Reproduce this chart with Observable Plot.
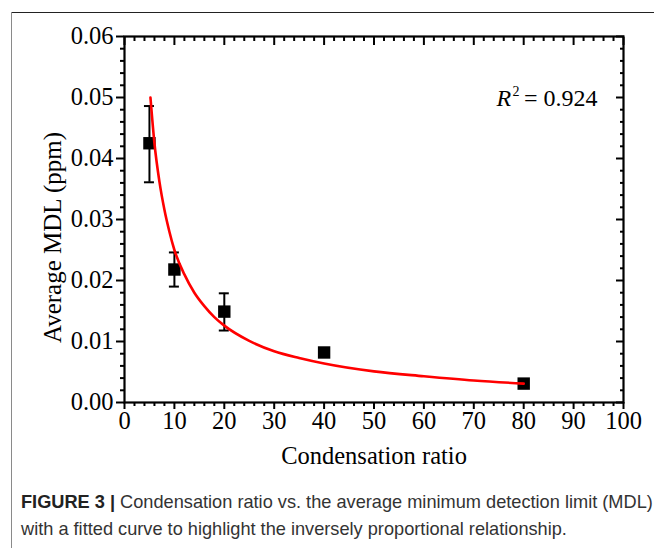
<!DOCTYPE html>
<html><head><meta charset="utf-8">
<script src="https://cdn.jsdelivr.net/npm/d3@7"></script>
<script src="https://cdn.jsdelivr.net/npm/@observablehq/plot@0.6"></script>
<style>
body{margin:0;background:#fff;width:654px;height:548px;overflow:hidden;position:relative;}
#chart{position:absolute;left:0;top:0;}
#chart g[aria-label$="tick label"]{font-size:24.5px !important;}
#topline{position:absolute;left:11px;top:12px;width:643px;height:0;border-top:1.5px solid #222;z-index:2;}
#leftline{position:absolute;left:11px;top:12px;width:0;height:536px;border-left:1.5px solid #8a8a8a;z-index:2;}
#caption{position:absolute;left:21px;top:489px;width:640px;font-family:"Liberation Sans",Arial,sans-serif;font-size:18.2px;line-height:27px;color:#333;white-space:nowrap;}
#caption b{color:#222;}
</style></head>
<body>
<div id="topline"></div><div id="leftline"></div>
<div id="chart"></div>
<div id="caption"><b>FIGURE 3 |</b> Condensation ratio vs. the average minimum detection limit (MDL)<br>with a fitted curve to highlight the inversely proportional relationship.</div>
<script>
const ratio = [5, 10, 20, 40, 80];
const mdl = [0.0425, 0.0218, 0.0149, 0.0082, 0.0031];
const errLow = [0.0361, 0.0190, 0.0118, 0.0077, 0.0026];
const errHigh = [0.0486, 0.0246, 0.0179, 0.0087, 0.0036];
const fitX = [5.2, 6, 7, 8, 9, 10, 12, 14, 16, 18, 20, 25, 30, 35, 40, 50, 60, 70, 80];
const fitY = [0.0500, 0.0425, 0.0362, 0.0316, 0.0280, 0.0250, 0.0210, 0.0180, 0.0158, 0.0140, 0.0126, 0.0101, 0.0084, 0.0073, 0.0064, 0.0051, 0.0043, 0.0036, 0.0031];
const xMajor = [0, 10, 20, 30, 40, 50, 60, 70, 80, 90, 100];
const yMajor = [0, 0.01, 0.02, 0.03, 0.04, 0.05, 0.06];
const xMinor = d3.range(0, 101, 2).filter(v => v % 10 !== 0);
const yMinor = d3.range(0, 61, 2).filter(v => v % 10 !== 0).map(v => v / 1000);

const pts = ratio.map((x, i) => ({x, y: mdl[i], lo: errLow[i], hi: errHigh[i]}));
const fit = fitX.map((x, i) => ({x, y: fitY[i]}));
const blank = () => "";

const chart = Plot.plot({
  width: 654, height: 470,
  marginLeft: 124, marginRight: 31, marginTop: 36, marginBottom: 68,
  x: {domain: [0, 100]},
  y: {domain: [0, 0.06]},
  style: {fontFamily: "'Liberation Serif', 'Times New Roman', serif", fontSize: "24px", color: "#000", background: "transparent"},
  marks: [
    Plot.axisY({ticks: yMajor, tickSize: 8, tickPadding: 3, tickFormat: d3.format(".2f"), label: null, strokeWidth: 2, fontSize: 24}),
    Plot.axisY({ticks: yMinor, tickSize: 4, tickFormat: blank, label: null, strokeWidth: 2}),
    Plot.axisY({anchor: "right", ticks: yMajor, tickSize: -8, tickFormat: blank, label: null, strokeWidth: 2}),
    Plot.axisY({anchor: "right", ticks: yMinor, tickSize: -4, tickFormat: blank, label: null, strokeWidth: 2}),
    Plot.axisX({ticks: xMajor, tickSize: 7, tickPadding: 2, tickFormat: d3.format("d"), label: null, strokeWidth: 2, fontSize: 24}),
    Plot.axisX({ticks: xMinor, tickSize: 4, tickFormat: blank, label: null, strokeWidth: 2}),
    Plot.axisX({anchor: "top", ticks: xMajor, tickSize: -8, tickFormat: blank, label: null, strokeWidth: 2}),
    Plot.axisX({anchor: "top", ticks: xMinor, tickSize: -4, tickFormat: blank, label: null, strokeWidth: 2}),
    Plot.frame({stroke: "#000", strokeWidth: 2.2}),
    Plot.ruleX(pts, {x: "x", y1: "lo", y2: "hi", stroke: "#000", strokeWidth: 2}),
    Plot.ruleY(pts, {x1: "x", x2: "x", y: "lo", insetLeft: -5, insetRight: -5, stroke: "#000", strokeWidth: 2}),
    Plot.ruleY(pts, {x1: "x", x2: "x", y: "hi", insetLeft: -5, insetRight: -5, stroke: "#000", strokeWidth: 2}),
    Plot.dot(pts, {x: "x", y: "y", symbol: "square", r: 7, fill: "#000", stroke: "none"}),
    Plot.line(fit, {x: "x", y: "y", stroke: "#ff0000", strokeWidth: 2.6, curve: "monotone-x"}),
    Plot.text(["Condensation ratio"], {frameAnchor: "bottom", textAnchor: "middle", lineAnchor: "middle", dy: 54, fontSize: 24.5, fill: "#000"}),
    Plot.text(["Average MDL (ppm)"], {frameAnchor: "left", textAnchor: "middle", lineAnchor: "middle", rotate: -90, dx: -72, dy: 18, fontSize: 25, fill: "#000"}),
    Plot.text(["R"], {frameAnchor: "top-right", textAnchor: "start", lineAnchor: "middle", dx: -127, dy: 62, fontSize: 24, fontStyle: "italic", fill: "#000"}),
    Plot.text(["2"], {frameAnchor: "top-right", textAnchor: "start", lineAnchor: "middle", dx: -111, dy: 55, fontSize: 14, fill: "#000"}),
    Plot.text(["= 0.924"], {frameAnchor: "top-right", textAnchor: "end", lineAnchor: "middle", dx: -26, dy: 62, fontSize: 24, fill: "#000"})
  ]
});
document.getElementById("chart").appendChild(chart);
</script>
</body></html>
